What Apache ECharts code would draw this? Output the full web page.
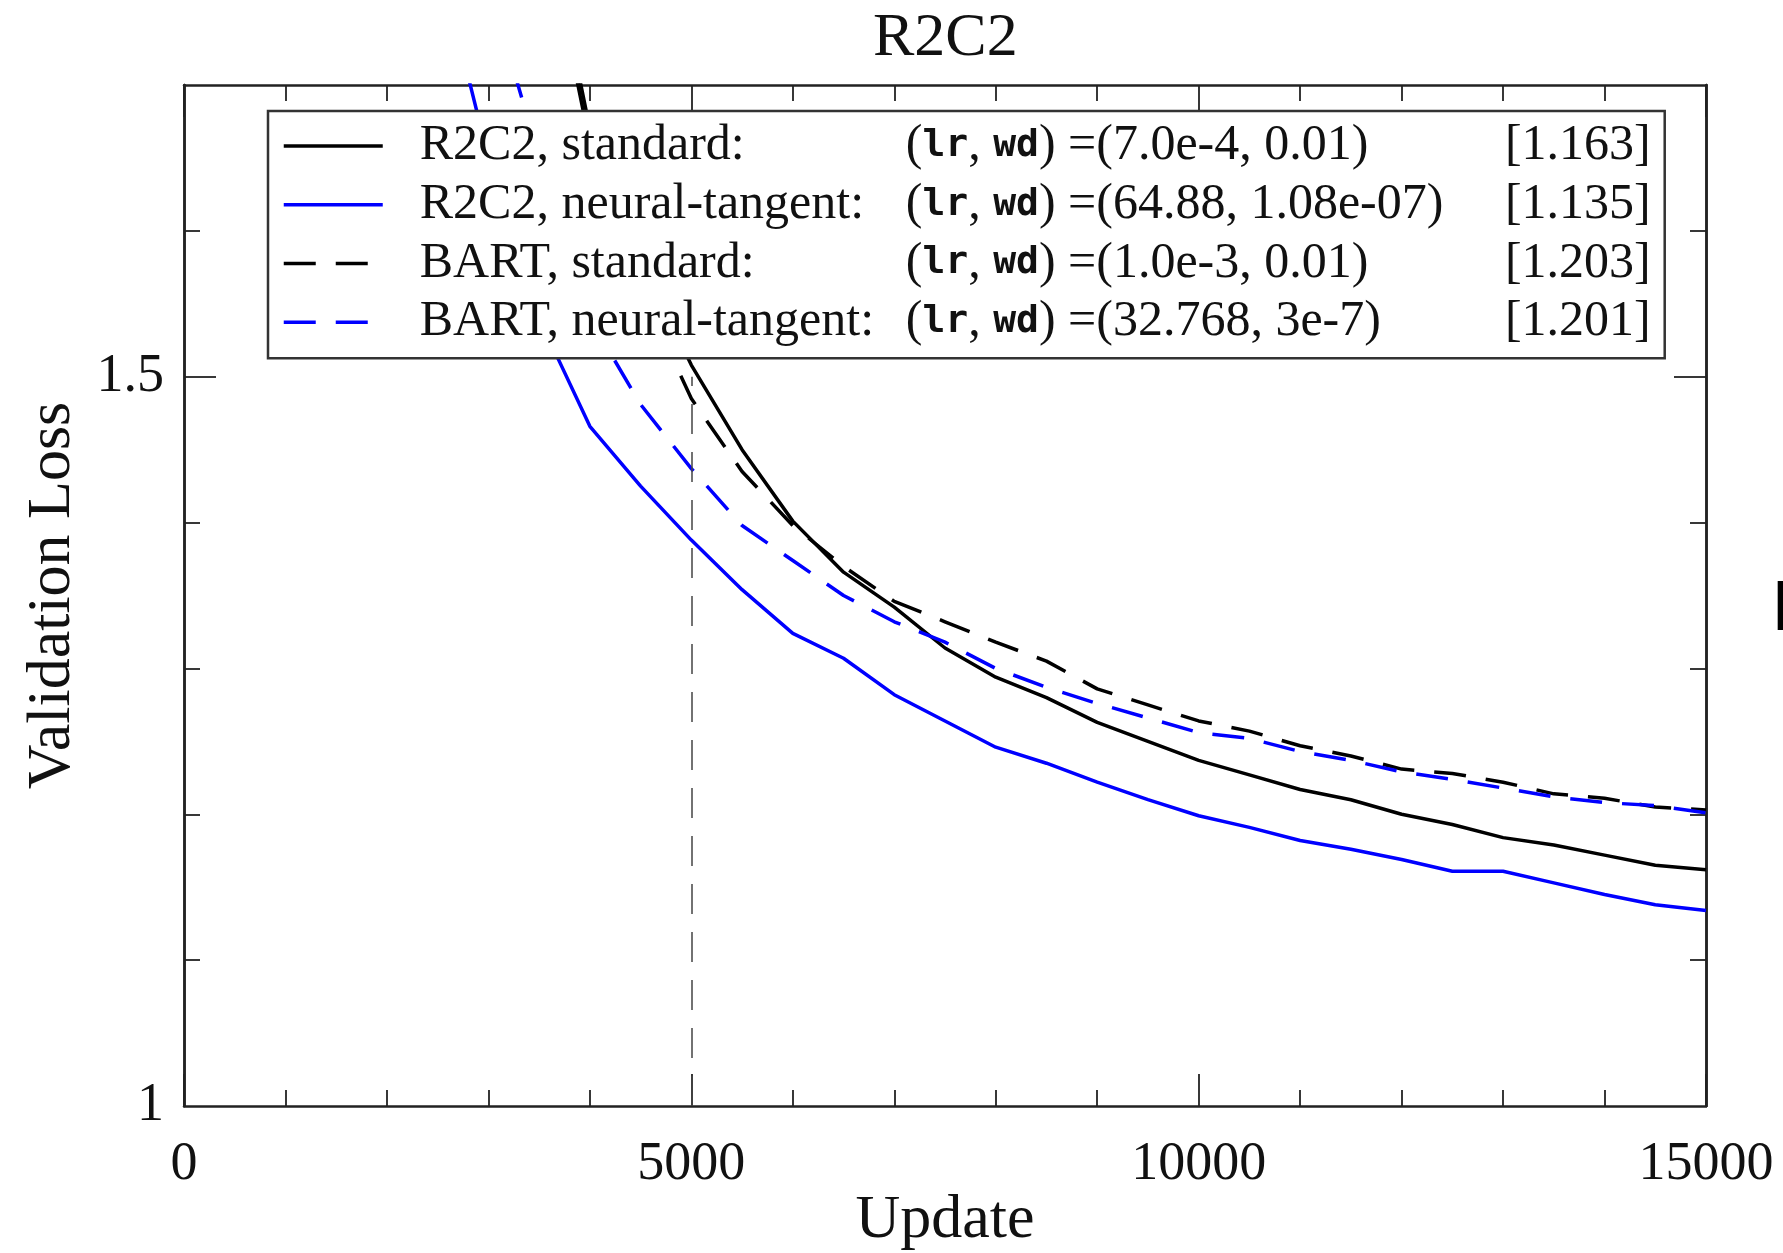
<!DOCTYPE html>
<html>
<head>
<meta charset="utf-8">
<title>R2C2</title>
<script src="https://cdn.jsdelivr.net/npm/echarts@6/dist/echarts.min.js"></script>
<style>
  html, body { margin: 0; padding: 0; background: #fff; }
  #chart { width: 1783px; height: 1253px; }
</style>
</head>
<body>
<div id="chart"></div>
<script>
// values
var updates = [2500, 3000, 3500, 4000, 4500, 5000, 5500, 6000, 6500, 7000, 7500, 8000, 8500,
  9000, 9500, 10000, 10500, 11000, 11500, 12000, 12500, 13000, 13500, 14000, 14500, 15000];
var r2c2Standard = [2.35, 2.08, 1.84, 1.67, 1.58, 1.508, 1.450, 1.401, 1.366, 1.342, 1.314, 1.294, 1.280,
  1.263, 1.250, 1.237, 1.227, 1.217, 1.210, 1.200, 1.193, 1.184, 1.179, 1.172, 1.165, 1.162];
var r2c2Tangent = [1.79, 1.65, 1.54, 1.466, 1.425, 1.388, 1.354, 1.324, 1.307, 1.282, 1.264, 1.246, 1.235,
  1.222, 1.210, 1.199, 1.191, 1.182, 1.176, 1.169, 1.161, 1.161, 1.153, 1.145, 1.138, 1.134];
var bartStandard = [2.30, 2.05, 1.83, 1.66, 1.56, 1.485, 1.435, 1.398, 1.370, 1.346, 1.332, 1.318, 1.305,
  1.286, 1.275, 1.264, 1.257, 1.247, 1.240, 1.231, 1.228, 1.222, 1.214, 1.211, 1.205, 1.203];
var bartTangent = [1.92, 1.77, 1.65, 1.54, 1.481, 1.437, 1.398, 1.374, 1.350, 1.332, 1.318, 1.300, 1.287,
  1.276, 1.266, 1.256, 1.252, 1.243, 1.237, 1.229, 1.224, 1.218, 1.212, 1.208, 1.206, 1.201];

var seriesNames = ['R2C2, standard:', 'R2C2, neural-tangent:', 'BART, standard:', 'BART, neural-tangent:'];
var seriesParams = ['(7.0e-4, 0.01)', '(64.88, 1.08e-07)', '(1.0e-3, 0.01)', '(32.768, 3e-7)'];
var seriesScores = ['[1.163]', '[1.135]', '[1.203]', '[1.201]'];
var xTickLabels = [0, 5000, 10000, 15000];
var yTickLabels = [1, 1.5];
var yMajorTicks = [1.5];
var yMinorTicks = [1.1, 1.2, 1.3, 1.4, 1.6];
var cutoffUpdate = 5000;

var SERIF = '"Liberation Serif", "DejaVu Serif", serif';
var MONO = '"DejaVu Sans Mono", monospace';
var AXIS = '#222';
var DASH = [32, 20];
var LW = 3.5;

function pairs(ys) {
  return updates.map(function (x, i) { return [x, ys[i]]; });
}
function pick(list) {
  return function (v) {
    for (var i = 0; i < list.length; i++) {
      if (Math.abs(v - list[i]) < 1e-6) return String(list[i]);
    }
    return '';
  };
}

// one y axis per side and tick length
function yAxisFor(side, ticks, len, extra) {
  var ax = {
    type: 'value', position: side, min: 1, max: 1.7, interval: 0.1,
    axisLine: { show: true, onZero: false, lineStyle: { color: AXIS, width: 2.5 } },
    axisTick: { show: true, inside: true, length: len, customValues: ticks, lineStyle: { color: AXIS, width: 1.8 } },
    axisLabel: { show: false },
    splitLine: { show: false }
  };
  return Object.assign(ax, extra || {});
}

var chart = echarts.init(document.getElementById('chart'));
var option = {
  animation: false,
  backgroundColor: '#fff',
  title: {
    text: 'R2C2',
    left: 873,
    top: 8,
    padding: 0,
    textStyle: { fontFamily: SERIF, fontSize: 62, fontWeight: 'normal', color: '#111' }
  },
  grid: { left: 184, right: 77, top: 85, bottom: 147, outerBoundsMode: 'none' },
  legend: {
    data: seriesNames,
    orient: 'vertical',
    left: 268,
    top: 111,
    padding: [10, 14, 11, 14],
    itemWidth: 99,
    itemHeight: 14,
    itemGap: 8.75,
    selectedMode: false,
    backgroundColor: '#fff',
    borderColor: '#333',
    borderWidth: 2.5,
    borderRadius: 0,
    itemStyle: { opacity: 0 },
    lineStyle: { width: LW },
    formatter: function (name) {
      var i = seriesNames.indexOf(name);
      return '{n|' + name + '}{p|(}{t|lr}{p|, }{t|wd}{r|) =' + seriesParams[i] + '}{s|' + seriesScores[i] + '}';
    },
    textStyle: {
      padding: [0, 0, 0, 32],
      rich: {
        n: { fontFamily: SERIF, fontSize: 50, color: '#111', width: 486, lineHeight: 50 },
        p: { fontFamily: SERIF, fontSize: 50, color: '#111', lineHeight: 50 },
        t: { fontFamily: MONO, fontSize: 38, fontWeight: 'bold', color: '#111', lineHeight: 50 },
        r: { fontFamily: SERIF, fontSize: 50, color: '#111', width: 466, lineHeight: 50 },
        s: { fontFamily: SERIF, fontSize: 50, color: '#111', width: 144, lineHeight: 50 }
      }
    }
  },
  xAxis: [{
    type: 'value', position: 'bottom', min: 0, max: 15000, interval: 5000,
    name: 'Update', nameLocation: 'middle', nameGap: 84, nameMoveOverlap: false,
    nameTextStyle: { fontFamily: SERIF, fontSize: 62, color: '#111' },
    axisLine: { show: true, onZero: false, lineStyle: { color: AXIS, width: 2.5 } },
    axisTick: { show: true, inside: true, length: 32, lineStyle: { color: AXIS, width: 1.8 } },
    minorTick: { show: true, splitNumber: 5, length: 16, lineStyle: { color: AXIS, width: 1.8 } },
    axisLabel: { margin: 32, fontFamily: SERIF, fontSize: 54, color: '#111', formatter: pick(xTickLabels) },
    splitLine: { show: false }
  }, {
    type: 'value', position: 'top', min: 0, max: 15000, interval: 5000,
    axisLine: { show: true, onZero: false, lineStyle: { color: AXIS, width: 2.5 } },
    axisTick: { show: true, inside: true, length: 32, lineStyle: { color: AXIS, width: 1.8 } },
    minorTick: { show: true, splitNumber: 5, length: 16, lineStyle: { color: AXIS, width: 1.8 } },
    axisLabel: { show: false },
    splitLine: { show: false }
  }],
  yAxis: [
    yAxisFor('left', yMinorTicks, 16, {
      name: 'Validation Loss', nameLocation: 'middle', nameGap: 100, nameRotate: 90,
      nameTextStyle: { fontFamily: SERIF, fontSize: 62, color: '#111' },
      axisLabel: { margin: 20, fontFamily: SERIF, fontSize: 54, color: '#111', customValues: yTickLabels, formatter: pick(yTickLabels) }
    }),
    yAxisFor('left', yMajorTicks, 32),
    yAxisFor('right', yMinorTicks, 16),
    yAxisFor('right', yMajorTicks, 32)
  ],
  graphic: [{
    // edge of the neighbouring panel, cut off on the right
    type: 'text', left: 1773, top: 576,
    style: { text: 'E', font: 'bold 70px "Liberation Sans"', fill: '#000' }
  }],
  series: [{
    name: seriesNames[0],
    type: 'line',
    symbol: 'none',
    clip: true,
    data: pairs(r2c2Standard),
    itemStyle: { color: '#000' },
    lineStyle: { color: '#000', width: LW },
    markLine: {
      silent: true,
      symbol: ['none', 'none'],
      label: { show: false },
      lineStyle: { color: '#444', width: 1.5, type: [30, 18] },
      data: [[{ coord: [cutoffUpdate, yTickLabels[0]] }, { coord: [cutoffUpdate, yTickLabels[1]] }]]
    }
  }, {
    name: seriesNames[1],
    type: 'line',
    symbol: 'none',
    clip: true,
    data: pairs(r2c2Tangent),
    itemStyle: { color: '#0000ff' },
    lineStyle: { color: '#0000ff', width: LW }
  }, {
    name: seriesNames[2],
    type: 'line',
    symbol: 'none',
    clip: true,
    data: pairs(bartStandard),
    itemStyle: { color: '#000' },
    lineStyle: { color: '#000', width: LW, type: DASH }
  }, {
    name: seriesNames[3],
    type: 'line',
    symbol: 'none',
    clip: true,
    data: pairs(bartTangent),
    itemStyle: { color: '#0000ff' },
    lineStyle: { color: '#0000ff', width: LW, type: DASH }
  }]
};
chart.setOption(option, true);
</script>
</body>
</html>
